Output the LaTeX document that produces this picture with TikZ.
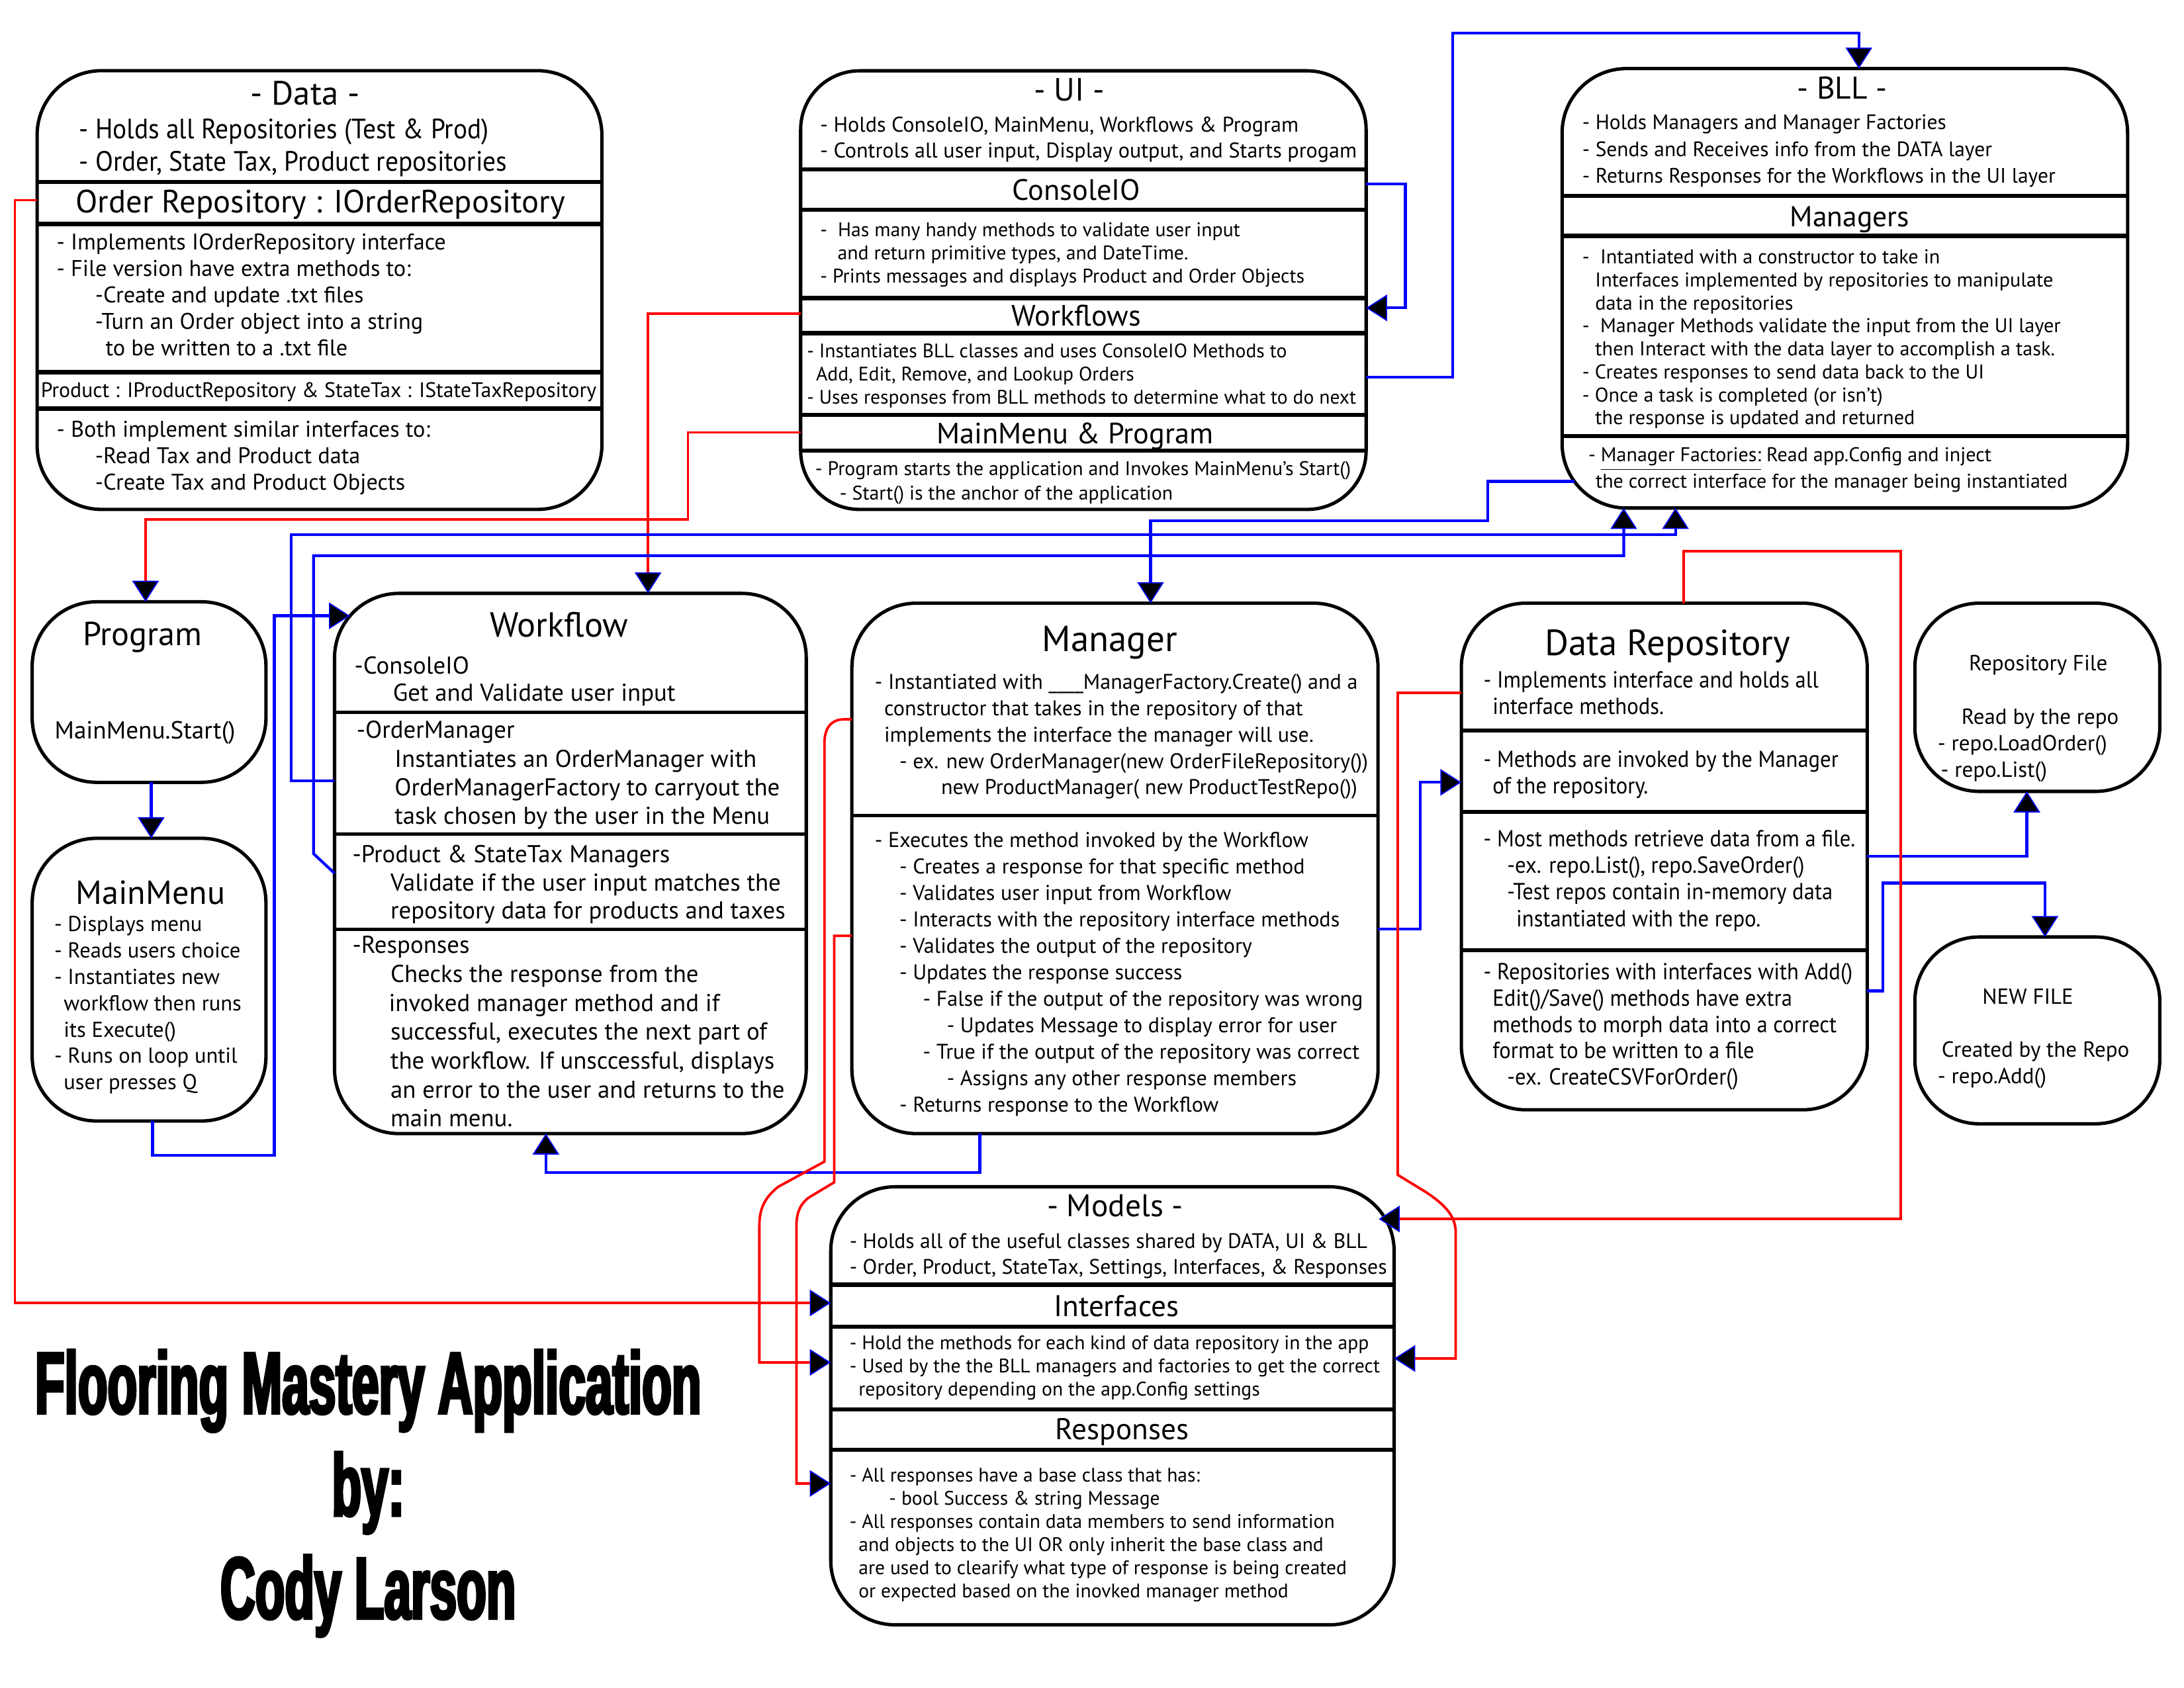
\documentclass[tikz,border=0pt]{standalone}
\usepackage{fontspec}
\setmainfont{PT Sans}
\newfontfamily\cf[FakeStretch=0.93]{PT Sans}
\newfontfamily\ttl[FakeStretch=0.55,FakeBold=3]{Liberation Sans}
\usetikzlibrary{arrows.meta,fit}
\newcommand\fs[2]{\fontsize{#1}{#2}\selectfont}
\newcommand\lns[1]{\vtop{\halign{##\hfil\cr#1\crcr}}}
\newcommand\ind[1]{\hspace*{#1pt}}
\tikzset{
  bx/.style={draw, line width=1.2pt, rounded corners=23pt, inner sep=0pt, outer sep=0pt, rectangle},
  dvk/.style={line width=1.5pt},
  dvt/.style={line width=1.1pt},
  tl/.style={anchor=base west, inner sep=0pt, outer sep=0pt},
  tc/.style={anchor=base, inner sep=0pt, outer sep=0pt},
  bl/.style={draw=blue, line width=1pt},
  rd/.style={draw=red, line width=0.9pt},
  tip/.style={-{Triangle[length=7.5pt,width=9.5pt,color=blue,fill=black,line width=0.4pt]}},
}
\begin{document}
\begin{tikzpicture}[x=0.5pt,y=-0.5pt]
\fill[white] (0,0) rectangle (1560.3,1205.7);
\useasboundingbox (0,0) rectangle (1560.3,1205.7);

% ---------- boxes ----------
\node[bx, fit={(26.5,50.5) (430,364)}] (data) {};
\node[bx, rounded corners=21pt, fit={(572,50.6) (976,364)}] (ui) {};
\node[bx, fit={(1116,49) (1520,363)}] (bll) {};
\node[bx, fit={(23,430) (190,559)}] (prog) {};
\node[bx, fit={(23,599) (190,801)}] (mm) {};
\node[bx, fit={(239,424) (576,810)}] (wf) {};
\node[bx, fit={(608.6,431) (984.5,810)}] (mgr) {};
\node[bx, fit={(1044,431) (1334,793)}] (dr) {};
\node[bx, fit={(1368,431) (1543,565.5)}] (rf) {};
\node[bx, fit={(1368,669.5) (1543,803)}] (nf) {};
\node[bx, fit={(593.5,848) (996,1161)}] (models) {};

% ---------- dividers ----------
\foreach \yy in {130,160,266,292} \draw[dvk] (data.west |- 0,\yy) -- (data.east |- 0,\yy);
\foreach \yy in {121,150,213,238,296.5,322} \draw[dvk] (ui.west |- 0,\yy) -- (ui.east |- 0,\yy);
\foreach \yy in {140,168.5,311.6} \draw[dvk] (bll.west |- 0,\yy) -- (bll.east |- 0,\yy);
\foreach \yy in {509,596,664} \draw[dvt] (wf.west |- 0,\yy) -- (wf.east |- 0,\yy);
\draw[dvt] (mgr.west |- 0,582.6) -- (mgr.east |- 0,582.6);
\foreach \yy in {522,580,679} \draw[dvk] (dr.west |- 0,\yy) -- (dr.east |- 0,\yy);
\foreach \yy in {918,948,1007,1036} \draw[dvk] (models.west |- 0,\yy) -- (models.east |- 0,\yy);

% ---------- Data ----------
\node[tc, font=\fs{12}{12}] (dT) at (218,75) {- Data -};
\node[tl, font=\cf\fs{10}{11.65}] (dH) at (56.5,99) {\lns{- Holds all Repositories (Test \& Prod)\cr - Order, State Tax, Product repositories}};
\node[tc, font=\fs{11.5}{12}] (dO) at (229,151.8) {Order Repository : IOrderRepository};
\node[tl, font=\fs{8.1}{9.45}] (dB1) at (40.5,178.7) {\lns{- Implements IOrderRepository interface\cr
- File version have extra methods to:\cr
\ind{13.75}-Create and update .txt files\cr
\ind{13.75}-Turn an Order object into a string\cr
\ind{17.5}to be written to a .txt file}};
\node[tl, font=\fs{7.5}{9}] (dP) at (29.2,283.7) {Product : IProductRepository \& StateTax : IStateTaxRepository};
\node[tl, font=\fs{8.1}{9.45}] (dB2) at (40.5,312.5) {\lns{- Both implement similar interfaces to:\cr
\ind{13.75}-Read Tax and Product data\cr
\ind{13.75}-Create Tax and Product Objects}};

% ---------- UI ----------
\node[tc, font=\fs{11.5}{12}] (uT) at (764,72) {- UI -};
\node[tl, font=\fs{7.6}{9.2}] (uH) at (586,94.4) {\lns{- Holds ConsoleIO, MainMenu, Workflows \& Program\cr
- Controls all user input, Display output, and Starts progam}};
\node[tc, font=\fs{10.5}{12}] (uC) at (769,142.9) {ConsoleIO};
\node[tl, font=\fs{7.05}{8.3}] (uCB) at (586,169.1) {\lns{-\ \ Has many handy methods to validate user input\cr
\ind{6.2}and return primitive types, and DateTime.\cr
- Prints messages and displays Product and Order Objects}};
\node[tc, font=\fs{10.5}{12}] (uW) at (769,233) {Workflows};
\node[tl, font=\fs{7.0}{8.25}] (uWB) at (576.5,255.7) {\lns{- Instantiates BLL classes and uses ConsoleIO Methods to\cr
\ind{3.25}Add, Edit, Remove, and Lookup Orders\cr
- Uses responses from BLL methods to determine what to do next}};
\node[tc, font=\fs{10.5}{12}] (uM) at (768,316.8) {MainMenu \& Program};
\node[tl, font=\fs{7.05}{8.75}] (uMB) at (582.5,339.5) {\lns{- Program starts the application and Invokes MainMenu’s Start()\cr
\ind{8.75}- Start() is the anchor of the application}};

% ---------- BLL ----------
\node[tc, font=\fs{11.2}{12}] (bT) at (1316,70.9) {- BLL -};
\node[tl, font=\fs{7.45}{9.55}] (bH) at (1130.5,92.6) {\lns{- Holds Managers and Manager Factories\cr
- Sends and Receives info from the DATA layer\cr
- Returns Responses for the Workflows in the UI layer}};
\node[tc, font=\fs{10.3}{12}] (bM) at (1321.5,161.7) {Managers};
\node[tl, font=\fs{7.15}{8.22}] (bB) at (1130.5,188.4) {\lns{-\ \ Intantiated with a constructor to take in\cr
\ind{4.6}Interfaces implemented by repositories to manipulate\cr
\ind{4.6}data in the repositories\cr
-\ \ Manager Methods validate the input from the UI layer\cr
\ind{4.6}then Interact with the data layer to accomplish a task.\cr
- Creates responses to send data back to the UI\cr
- Once a task is completed (or isn’t)\cr
\ind{4.6}the response is updated and returned}};
\node[tl, font=\fs{7.1}{8.5}] (bF) at (1134.8,329.6) {\lns{- \underline{Manager Factories:} Read app.Config and inject\cr
\ind{2.6}the correct interface for the manager being instantiated}};

% ---------- Program / MainMenu ----------
\node[tc, font=\fs{11.9}{12}] (pT) at (101.8,461.2) {Program};
\node[tc, font=\fs{8.8}{10}] (pS) at (103.6,528) {MainMenu.Start()};
\node[tc, font=\fs{11.9}{12}] (mT) at (107.6,646.2) {MainMenu};
\node[tl, font=\fs{7.7}{9.4}] (mB) at (38.8,665.7) {\lns{- Displays menu\cr
- Reads users choice\cr
- Instantiates new\cr
\ind{3.4}workflow then runs\cr
\ind{3.4}its Execute()\cr
- Runs on loop until\cr
\ind{3.4}user presses Q}};

% ---------- Workflow ----------
\node[tc, font=\fs{12.4}{13}] (wT) at (399.5,455) {Workflow};
\node[tl, font=\fs{8.7}{9.7}] (wB1) at (253.3,481.6) {\lns{-ConsoleIO\cr
\ind{13.75}Get and Validate user input}};
\node[tl, font=\fs{8.7}{10.25}] (wB2) at (254.8,527.5) {\lns{-OrderManager\cr
\ind{13.6}Instantiates an OrderManager with\cr
\ind{13.6}OrderManagerFactory to carryout the\cr
\ind{13.6}task chosen by the user in the Menu}};
\node[tl, font=\fs{8.7}{10.05}] (wB3) at (251.8,616.5) {\lns{-Product \& StateTax Managers\cr
\ind{13.6}Validate if the user input matches the\cr
\ind{13.6}repository data for products and taxes}};
\node[tl, font=\fs{8.7}{10.32}] (wB4) at (251.8,681.3) {\lns{-Responses\cr
\ind{13.6}Checks the response from the\cr
\ind{13}invoked manager method and if\cr
\ind{13.6}successful, executes the next part of\cr
\ind{13.6}the workflow. If unsccessful, displays\cr
\ind{13.6}an error to the user and returns to the\cr
\ind{13.6}main menu.}};

% ---------- Manager ----------
\node[tc, font=\fs{13}{13}] (gT) at (792.8,465.3) {Manager};
\node[tl, font=\fs{7.6}{9.4}] (gB1) at (625,492.6) {\lns{- Instantiated with \_\_\_\_ManagerFactory.Create() and a\cr
\ind{3.35}constructor that takes in the repository of that\cr
\ind{3.35}implements the interface the manager will use.\cr
\ind{8.8}- ex. new OrderManager(new OrderFileRepository())\cr
\ind{23.7}new ProductManager( new ProductTestRepo())}};
\node[tl, font=\fs{7.6}{9.45}] (gB2) at (625,605.5) {\lns{- Executes the method invoked by the Workflow\cr
\ind{8.8}- Creates a response for that specific method\cr
\ind{8.8}- Validates user input from Workflow\cr
\ind{8.8}- Interacts with the repository interface methods\cr
\ind{8.8}- Validates the output of the repository\cr
\ind{8.8}- Updates the response success\cr
\ind{17.2}- False if the output of the repository was wrong\cr
\ind{25.75}- Updates Message to display error for user\cr
\ind{17.2}- True if the output of the repository was correct\cr
\ind{25.75}- Assigns any other response members\cr
\ind{8.8}- Returns response to the Workflow}};

% ---------- Data Repository ----------
\node[tc, font=\fs{13}{13}] (rT) at (1191.4,468.3) {Data Repository};
\node[tl, font=\cf\fs{8.3}{9.45}] (rB1) at (1059.9,491.5) {\lns{- Implements interface and holds all\cr
\ind{3.25}interface methods.}};
\node[tl, font=\cf\fs{8.3}{9.45}] (rB2) at (1059.9,548.2) {\lns{- Methods are invoked by the Manager\cr
\ind{3.25}of the repository.}};
\node[tl, font=\cf\fs{8.3}{9.5}] (rB3) at (1059.9,605) {\lns{- Most methods retrieve data from a file.\cr
\ind{8.45}-ex. repo.List(), repo.SaveOrder()\cr
\ind{8.45}-Test repos contain in-memory data\cr
\ind{11.7}instantiated with the repo.}};
\node[tl, font=\cf\fs{8.3}{9.45}] (rB4) at (1059.9,699.8) {\lns{- Repositories with interfaces with Add()\cr
\ind{3.25}Edit()/Save() methods have extra\cr
\ind{3.25}methods to morph data into a correct\cr
\ind{3.25}format to be written to a file\cr
\ind{8.45}-ex. CreateCSVForOrder()}};

% ---------- Repository File / NEW FILE ----------
\node[tc, font=\fs{7.8}{9.5}] (fT) at (1456.1,479.2) {Repository File};
\node[tc, font=\fs{7.8}{9.5}] (fR) at (1457.5,517.4) {Read by the repo};
\node[tl, font=\fs{7.8}{9.5}] (fL) at (1384.4,536.3) {- repo.LoadOrder()};
\node[tl, font=\fs{7.8}{9.5}] (fS) at (1386.6,555.2) {- repo.List()};
\node[tc, font=\fs{7.8}{9.5}] (nT) at (1448.8,717.7) {NEW FILE};
\node[tc, font=\fs{7.8}{9.5}] (nC) at (1454.2,755.5) {Created by the Repo};
\node[tl, font=\fs{7.8}{9.5}] (nA) at (1384.4,774.1) {- repo.Add()};

% ---------- Models ----------
\node[tc, font=\fs{11.2}{12}] (oT) at (796.7,869.4) {- Models -};
\node[tl, font=\fs{7.5}{9.4}] (oH) at (607,891.8) {\lns{- Holds all of the useful classes shared by DATA, UI \& BLL\cr
- Order, Product, StateTax, Settings, Interfaces, \& Responses}};
\node[tc, font=\fs{10.7}{12}] (oI) at (797.6,940.6) {Interfaces};
\node[tl, font=\fs{7.0}{8.3}] (oIB) at (607,964.2) {\lns{- Hold the methods for each kind of data repository in the app\cr
- Used by the the BLL managers and factories to get the correct\cr
\ind{3.2}repository depending on the app.Config settings}};
\node[tc, font=\fs{10.7}{12}] (oR) at (801.6,1028.6) {Responses};
\node[tl, font=\fs{7.0}{8.3}] (oRB) at (607,1058.8) {\lns{- All responses have a base class that has:\cr
\ind{14.1}- bool Success \& string Message\cr
- All responses contain data members to send information\cr
\ind{3.2}and objects to the UI OR only inherit the base class and\cr
\ind{3.2}are used to clearify what type of response is being created\cr
\ind{3.2}or expected based on the inovked manager method}};

% ---------- Title ----------
\node[tc, font=\ttl\bfseries\fs{31.4}{32}] (title1) at (263,1010) {Flooring Mastery Application};
\node[tc, font=\ttl\bfseries\fs{31.4}{32}] (title2) at (263,1083) {by:};
\node[tc, font=\ttl\bfseries\fs{31.4}{32}] (title3) at (263,1156.6) {Cody Larson};

% ---------- connectors ----------
\draw[rd,tip] (data.west |- 0,143) -- (10.6,143) -- (10.6,931) -- (models.west |- 0,931);
\draw[rd,tip] (ui.west |- 0,224) -- (463,224) -- (463,0 |- wf.north);
\draw[rd,tip] (ui.west |- 0,309) -- (491.5,309) -- (491.5,371) -- (104,371) -- (104,0 |- prog.north);
\draw[bl,tip] (ui.east |- 0,131.5) -- (1004,131.5) -- (1004,220) -- (ui.east |- 0,220);
\draw[bl,tip] (ui.east |- 0,269.5) -- (1038,269.5) -- (1038,23.7) -- (1328,23.7) -- (1328,0 |- bll.north);
\draw[bl,tip] (108,0 |- prog.south) -- (108,0 |- mm.north);
\draw[bl,tip] (109,0 |- mm.south) -- (109,825.6) -- (196,825.6) -- (196,440) -- ([xshift=5.5pt]wf.west |- 0,440);
\draw[bl,tip] (wf.west |- 0,558) -- (208,558) -- (208,382) -- (1197,382) -- (1197,0 |- bll.south);
\draw[bl,tip] (wf.west |- 0,624) -- (224,610) -- (224,397) -- (1160,397) -- (1160,0 |- bll.south);
\draw[bl,tip] ([xshift=4.5pt]bll.west |- 0,344) -- (1063,344) -- (1063,372) -- (822,372) -- (822,0 |- mgr.north);
\draw[bl,tip] (700,0 |- mgr.south) -- (700,838) -- (390,838) -- (390,0 |- wf.south);
\draw[bl,tip] (mgr.east |- 0,664) -- (1014.7,664) -- (1014.7,559) -- (dr.west |- 0,559);
\draw[bl,tip] (dr.east |- 0,612) -- (1448,612) -- (1448,0 |- rf.south);
\draw[bl,tip] (dr.east |- 0,708) -- (1345,708) -- (1345,631) -- (1461,631) -- (1461,0 |- nf.north);
\draw[rd,tip] (1203,0 |- dr.north) -- (1203,394) -- (1358,394) -- (1358,871) -- ([xshift=-5.5pt]models.east |- 0,871);
\draw[rd,tip] (dr.west |- 0,495) -- (998.6,495) -- (998.6,839.5) -- (1019,852) .. controls (1034,862) and (1040,870) .. (1040,881) -- (1040,970.7) -- (models.east |- 0,970.7);
\draw[rd,tip] (mgr.west |- 0,514) -- (603,514) .. controls (594,514) and (589,520) .. (589,531) -- (589,830) -- (556,848) .. controls (546,856) and (542.5,864) .. (542.5,876) -- (542.5,973.5) -- (models.west |- 0,973.5);
\draw[rd,tip] (mgr.west |- 0,668.7) -- (596,668.7) -- (596,844.8) -- (578,855.6) .. controls (572,860) and (569,866) .. (569,876) -- (569,1060) -- (models.west |- 0,1060);
\end{tikzpicture}
\end{document}
